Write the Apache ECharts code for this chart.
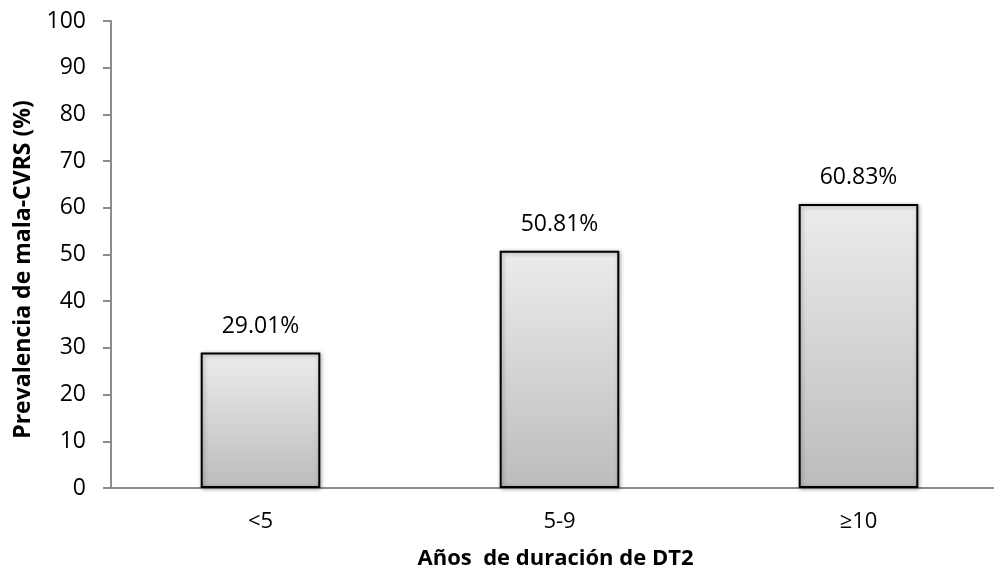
<!DOCTYPE html>
<html>
<head>
<meta charset="utf-8">
<script src="https://cdn.jsdelivr.net/npm/echarts@6/dist/echarts.min.js"></script>
<style>
  html, body { margin: 0; padding: 0; background: #fff; }
  #chart { width: 994px; height: 575px; }
</style>
</head>
<body>
<div id="chart"></div>
<script>
// Duration groups of type 2 diabetes and prevalence of poor CVRS
const categories = ['<5', '5-9', '≥10'];
const prevalence = [29.01, 50.81, 60.83];
const yTicks = { min: 0, max: 100, interval: 10 };

const FONT = '"Open Sans", "Liberation Sans", sans-serif';

const chart = echarts.init(document.getElementById('chart'), null, { renderer: 'canvas' });
chart.setOption({
  animation: false,
  backgroundColor: '#ffffff',
  // plot area runs a little past the right edge of the canvas
  grid: { left: 111, top: 21, width: 897, height: 467, containLabel: false, outerBoundsMode: 'none' },
  xAxis: {
    type: 'category',
    data: categories,
    name: 'Años  de duración de DT2',
    nameLocation: 'middle',
    nameGap: 60,
    nameTextStyle: { fontFamily: FONT, fontSize: 22, fontWeight: 'bold', color: '#000',
      padding: [0, 8, 0, 0] },
    axisLine: { lineStyle: { color: '#8c8c8c', width: 2 } },
    axisTick: { show: false },
    axisLabel: { fontFamily: FONT, fontSize: 22, color: '#000', margin: 23 }
  },
  yAxis: {
    type: 'value',
    min: yTicks.min,
    max: yTicks.max,
    interval: yTicks.interval,
    name: 'Prevalencia de mala-CVRS (%)',
    nameLocation: 'middle',
    nameGap: 76,
    nameTextStyle: { fontFamily: FONT, fontSize: 23, fontWeight: 'bold', color: '#000',
      padding: [0, 30, 0, 0] },
    splitLine: { show: false },
    axisLine: { show: true, lineStyle: { color: '#8c8c8c', width: 2 } },
    axisTick: { show: true, length: 8, lineStyle: { color: '#8c8c8c', width: 2 } },
    axisLabel: { fontFamily: FONT, fontSize: 23, color: '#000', margin: 25 }
  },
  series: [{
    type: 'bar',
    data: prevalence,
    barWidth: '40%',
    itemStyle: {
      color: new echarts.graphic.LinearGradient(0, 0, 0, 1, [
        { offset: 0, color: '#ececec' },
        { offset: 1, color: '#bcbcbc' }
      ]),
      borderColor: '#000',
      borderWidth: 2,
      shadowColor: 'rgba(0,0,0,0.35)',
      shadowBlur: 4,
      shadowOffsetX: 1,
      shadowOffsetY: 1
    },
    label: {
      show: true,
      position: 'top',
      distance: 15,
      formatter: p => p.value.toFixed(2) + '%',
      fontFamily: FONT,
      fontSize: 23,
      color: '#000'
    }
  }]
});
</script>
</body>
</html>
